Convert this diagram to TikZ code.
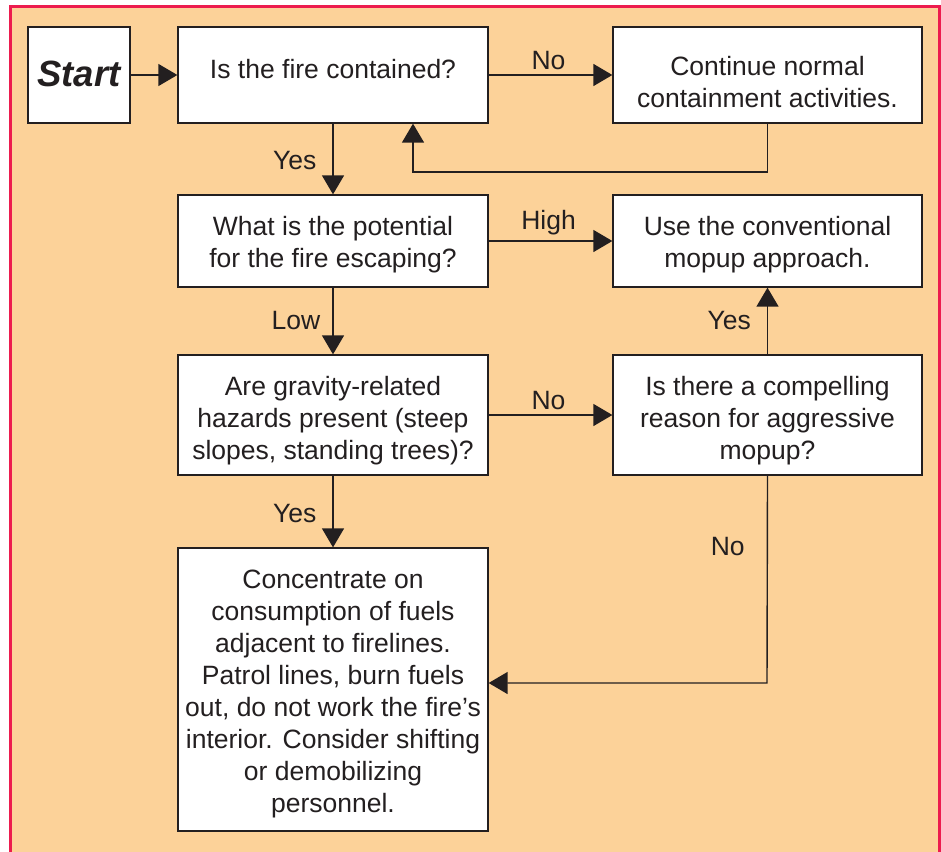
\documentclass[tikz,border=0pt]{standalone}
\usepackage{fontspec}
\setmainfont{Liberation Sans}
\usetikzlibrary{arrows.meta}
\definecolor{bgorange}{RGB}{252,210,153}
\definecolor{frameRed}{RGB}{236,28,78}
\definecolor{ink}{RGB}{35,31,32}
\begin{document}
\begin{tikzpicture}[x=1pt,y=-1pt,
  box/.style={draw=ink, line width=1.3pt, fill=white, inner sep=0pt},
  txt/.style={align=center, inner sep=0pt, text=ink, font=\fontsize{26.5}{32}\selectfont},
  arr/.style={draw=ink, line width=1.4pt, -{Triangle[length=19pt,width=22pt]}},
  lbl/.style={text=ink, font=\fontsize{26.5}{32}\selectfont, inner sep=0pt},
  lblabove/.style={lbl, above=5pt},
  lblleft/.style={lbl, left=16pt}]
\useasboundingbox (0,0) rectangle (941,851);
\clip (0,0) rectangle (941,851);
\fill[white] (0,0) rectangle (941,851);
\draw[frameRed, line width=3pt, fill=bgorange] (10,7) rectangle (939.5,880);

\node[box, minimum width=102pt, minimum height=96pt] (start) at (79,75) {};
\node[box, minimum width=310pt, minimum height=96pt] (q1) at (333,75) {};
\node[box, minimum width=309pt, minimum height=96pt] (cont) at (767.5,75) {};
\node[box, minimum width=310pt, minimum height=92pt] (q2) at (333,241) {};
\node[box, minimum width=309pt, minimum height=92pt] (mop) at (767.5,241) {};
\node[box, minimum width=310pt, minimum height=120pt] (q3) at (333,415) {};
\node[box, minimum width=309pt, minimum height=120pt] (q4) at (767.5,415) {};
\node[box, minimum width=310pt, minimum height=283pt] (conc) at (333,689.5) {};

\node[txt, font=\fontsize{36.5}{40}\selectfont\bfseries\itshape] (startt) at ([yshift=1pt]start.center) {Start};
\node[txt] (q1t) at ([yshift=6pt]q1.center) {Is the fire contained?};
\node[txt] (contt) at ([yshift=-7pt]cont.center) {Continue normal\\containment activities.};
\node[txt] (q2t) at ([yshift=-4pt]q2.center) {What is the potential\\for the fire escaping?};
\node[txt] (mopt) at ([yshift=-4pt]mop.center) {Use the conventional\\mopup approach.};
\node[txt] (q3t) at ([yshift=-6pt]q3.center) {Are gravity-related\\hazards present (steep\\slopes, standing trees)?};
\node[txt] (q4t) at ([yshift=-6pt]q4.center) {Is there a compelling\\reason for aggressive\\mopup?};
\node[txt] (conct) at ([yshift=-4pt]conc.center) {Concentrate on\\consumption of fuels\\adjacent to firelines.\\Patrol lines, burn fuels\\out, do not work the fire’s\\interior. Consider shifting\\or demobilizing\\personnel.};

\coordinate (c1) at (413,172);
\coordinate (c2) at (767,683);

\draw[arr] (start) -- (q1);
\draw[arr] (q1) -- node[lblabove, xshift=-2pt]{No} (cont);
\draw[arr] (cont.south) |- (c1) -- (q1.south -| c1);
\draw[arr] (q1) -- node[lblleft, yshift=-2pt]{Yes} (q2);
\draw[arr] (q2) -- node[lblabove, xshift=-2pt]{High} (mop);
\draw[arr] (q2) -- node[lblleft, xshift=4pt]{Low} (q3);
\draw[arr] (q3) -- node[lblabove, xshift=-2pt]{No} (q4);
\draw[arr] (q4) -- node[lblleft]{Yes} (mop);
\draw[arr] (q3) -- node[lblleft, yshift=-2pt]{Yes} (conc);
\draw[arr] (q4.south) -- node[lblleft, pos=0.34, xshift=-6pt]{No} (c2) -- (conc.east |- c2);
\end{tikzpicture}
\end{document}
